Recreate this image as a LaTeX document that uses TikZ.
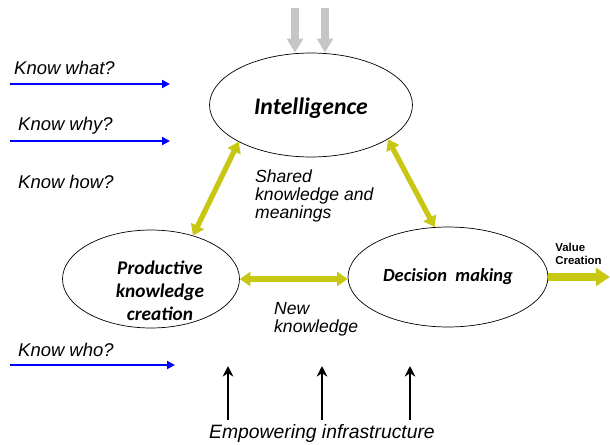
\documentclass[tikz,border=0pt]{standalone}
\usepackage{fontspec}
\setmainfont{Liberation Sans}
\newfontfamily\ovalfont{Carlito}
\usetikzlibrary{shapes.geometric,arrows.meta}

\definecolor{olivey}{RGB}{200,200,20}

\begin{document}
\begin{tikzpicture}[x=0.02cm,y=-0.02cm,
  oval/.style={draw,ellipse,thin,inner sep=0pt,align=center,
    font=\ovalfont\fontsize{11}{13}\selectfont\bfseries\itshape},
  lbl/.style={anchor=west,font=\fontsize{10.5}{12.5}\selectfont\itshape},
  knows/.style={blue,line width=1.1pt,-{Triangle[width=4.5pt,length=4.5pt]}},
  pull/.style={olivey,line width=3pt,{Triangle[width=8pt,length=6pt]}-{Triangle[width=8pt,length=6pt]}},
  base/.style={black,line width=1.3pt,-{Stealth[width=6pt,length=6pt]}}]

\useasboundingbox (0,0) rectangle (610,444);

\node[oval,minimum width=4.06cm,minimum height=2.08cm] (intel) at (311,105) {};
\node[oval,draw=none] (inteltxt) at (311,108) {\fontsize{13.5}{15}\selectfont Intelligence};

\node[oval,minimum width=3.54cm,minimum height=1.96cm] (pkc) at (151,279) {};
\node[oval,draw=none] (pkctxt) at (160,291) {Productive\\ knowledge\\ creation};

\node[oval,minimum width=4.0cm,minimum height=2.0cm] (dec) at (448,277)
  {\fontsize{10.5}{13}\selectfont Decision\ \ making};

\node[lbl] (what) at (8,68) {Know what?};
\node[lbl] (why) at (12,126) {Know why?};
\node[lbl] (how) at (12,182) {Know how?};
\node[lbl] (who) at (12,350) {Know who?};

\node[lbl,align=left,font=\fontsize{10}{10.4}\selectfont\itshape] (shared) at (249,196)
  {Shared\\ knowledge and\\ meanings};
\node[lbl,align=left,font=\fontsize{10}{10.4}\selectfont\itshape] (new) at (268,319)
  {New\\ knowledge};
\node[anchor=west,align=left,inner sep=0pt,font=\fontsize{6.5}{7.5}\selectfont\bfseries] (value) at (555,254)
  {Value\\ Creation};

\node[font=\fontsize{11}{13}\selectfont\itshape] (infra) at (322,433) {Empowering infrastructure};

\coordinate (what1) at (10,84);  \coordinate (what2) at (170,84);
\coordinate (why1) at (10,141);  \coordinate (why2) at (170,141);
\coordinate (who1) at (10,365);  \coordinate (who2) at (175,365);

\draw[knows] (what1) -- (what2);
\draw[knows] (why1) -- (why2);
\draw[knows] (who1) -- (who2);

% inputs from above
\coordinate (in1) at (295,8);
\coordinate (in2) at (325,8);
\foreach \c in {in1,in2}{
  \draw[gray!45,line width=4pt,-{Triangle[width=9pt,length=8pt]}] (\c) -- (intel.north -| \c);
}

% links between the three processes
\draw[pull] (intel.207) -- (pkc.46);
\draw[pull] (intel.-24) -- (dec.105);
\draw[pull] (pkc.east) -- (dec.west |- pkc.east);

\coordinate (out) at (610,277);
\draw[olivey,line width=4pt,-{Triangle[width=10pt,length=8pt]}] (dec.east) -- (out);

% infrastructure arrows
\coordinate (b1) at (228,420);
\coordinate (b2) at (322,420);
\coordinate (b3) at (410,420);
\foreach \c in {b1,b2,b3}{
  \draw[base] (\c) -- ++(0,-54);
}

\end{tikzpicture}
\end{document}
